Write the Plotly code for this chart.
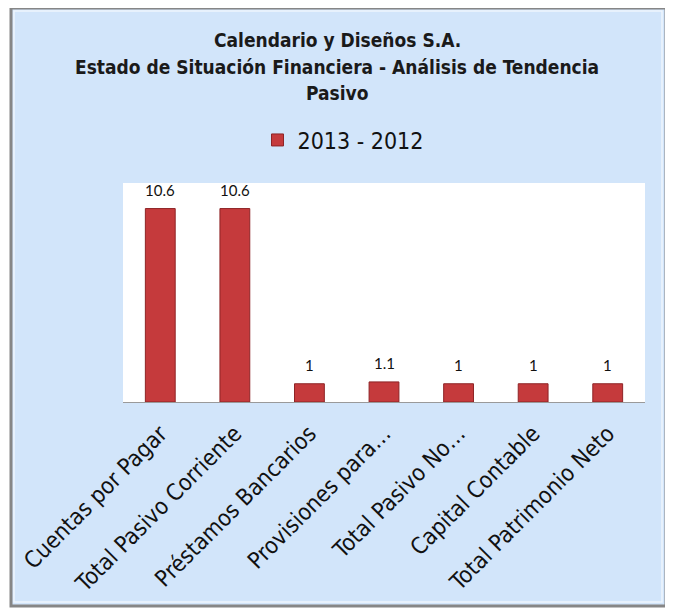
import plotly.graph_objects as go

categories = ["Cuentas por Pagar", "Total Pasivo Corriente", "Préstamos Bancarios",
              "Provisiones para…", "Total Pasivo No…", "Capital Contable",
              "Total Patrimonio Neto"]
values = [10.6, 10.6, 1, 1.1, 1, 1, 1]
series_name = "2013 - 2012"
title_lines = ["Calendario y Diseños S.A.",
               "Estado de Situación Financiera - Análisis de Tendencia",
               "Pasivo"]

OFF = 8  # page body margin
W, H = 673 - OFF, 609 - OFF
L, R, T, B = 123 - OFF, 645 - OFF, 183 - OFF, 402 - OFF

def px_x(p):
    return (p - OFF - L) / (R - L)

def px_y(p):
    return (B - (p - OFF)) / (B - T)

NARROW = "DejaVu Sans Condensed, Liberation Sans Narrow, Roboto Condensed, Liberation Sans"

fig = go.Figure()
fig.add_trace(go.Bar(
    x=categories, y=values, name=series_name,
    marker=dict(color="#C53A3C", line=dict(color="#8E2426", width=1)),
    width=0.4,
))

for c, v in zip(categories, values):
    fig.add_annotation(x=c, y=v, xref="x", yref="y", text=f"{v:g}",
                       showarrow=False, yanchor="bottom", yshift=8,
                       font=dict(family="Lato, Open Sans, Liberation Sans", size=15,
                                 color="#111111"))

fig.update_layout(
    width=W, height=H,
    margin=dict(l=L, r=W - R, t=T, b=H - B),
    paper_bgcolor="white",
    plot_bgcolor="rgba(0,0,0,0)",
    showlegend=True,
    legend=dict(orientation="h", x=px_x(343), xanchor="center",
                y=px_y(140), yanchor="middle",
                font=dict(family=NARROW, size=23, color="#111111"),
                bgcolor="rgba(0,0,0,0)"),
    xaxis=dict(showline=True, linecolor="#9A9A9A", linewidth=1, ticks="",
               tickangle=-45, tickfont=dict(family=NARROW, size=23, color="#111111"),
               ticklabelstandoff=8, showgrid=False),
    yaxis=dict(range=[0, 12], visible=False, showgrid=False),
    shapes=[
        dict(type="rect", xref="paper", yref="paper", layer="below",
             x0=px_x(11), x1=px_x(666), y0=px_y(606), y1=px_y(8),
             fillcolor="#D2E5FA", line=dict(color="#868686", width=3)),
        dict(type="rect", xref="paper", yref="paper", layer="below",
             x0=px_x(14), x1=px_x(662), y0=px_y(602), y1=px_y(11),
             fillcolor="rgba(0,0,0,0)", line=dict(color="#EEF5FD", width=1.5)),
        dict(type="rect", xref="paper", yref="paper", layer="below",
             x0=0, x1=1, y0=0, y1=1, fillcolor="white", line=dict(width=0)),
    ],
)
for line, yc in zip(title_lines, [40, 67, 93]):
    fig.add_annotation(text="<b>" + line + "</b>", xref="paper", yref="paper",
                       x=px_x(337), y=px_y(yc), xanchor="center", yanchor="middle",
                       showarrow=False,
                       font=dict(family=NARROW, size=19, color="#1A1A1A"))

fig.write_html("out.html")
